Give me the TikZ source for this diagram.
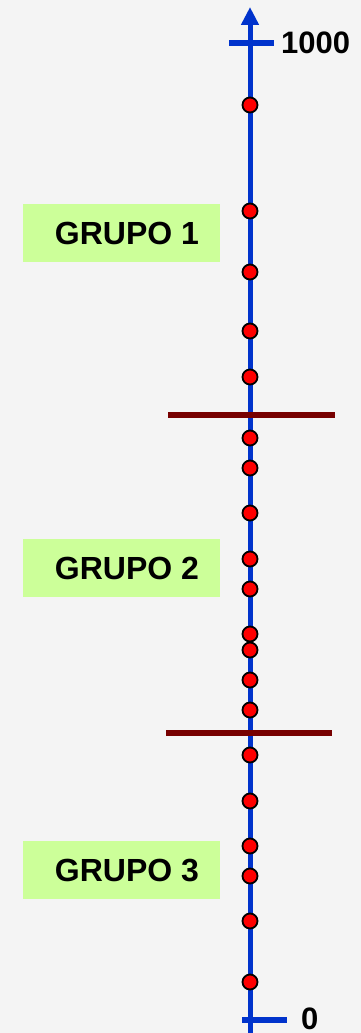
\documentclass[tikz,border=0pt]{standalone}
\usepackage{fontspec}
\setmainfont{Liberation Sans}
\usetikzlibrary{arrows.meta}
\definecolor{axisblue}{HTML}{0033CC}
\definecolor{sepred}{HTML}{770000}
\definecolor{boxgreen}{HTML}{CCFF99}
\definecolor{bggray}{HTML}{F4F4F4}
\tikzset{
  dot/.style={circle, draw=black, fill=red, line width=1.8pt, inner sep=0pt, minimum size=15pt},
  grupo/.style={fill=boxgreen, minimum width=197pt, minimum height=58pt, inner sep=0pt,
    font=\bfseries\fontsize{32}{38}\selectfont},
  ticklabel/.style={anchor=west, inner sep=0pt, font=\bfseries\fontsize{31}{37}\selectfont},
  tick/.style={axisblue, line width=5.5pt},
  separator/.style={sepred, line width=6pt}
}
\begin{document}
\begin{tikzpicture}[x=1pt, y=-1pt]
      \fill[bggray] (0,0) rectangle (361,1033);
      \useasboundingbox (0,0) rectangle (361,1033);

      % axis
      \coordinate (axbot) at (250,1033);
      \coordinate (axtop) at (250,7);
      \draw[axisblue, line width=5pt, -{Triangle[length=18pt, width=17pt]}] (axbot) -- (axtop);

      % ticks
      \coordinate (t1l) at (229,43);
      \coordinate (t1r) at (274,43);
      \coordinate (t0l) at (242,1020);
      \coordinate (t0r) at (287,1020);
      \draw[tick] (t1l) -- (t1r);
      \draw[tick] (t0l) -- (t0r);
      \node[ticklabel] (lbl1000) at (281,43) {1000};
      \node[ticklabel] (lbl0) at (301,1019) {0};

      % group separators
      \coordinate (s1l) at (168,415);
      \coordinate (s1r) at (335,415);
      \coordinate (s2l) at (166,733);
      \coordinate (s2r) at (332,733);
      \draw[separator] (s1l) -- (s1r);
      \draw[separator] (s2l) -- (s2r);

      % points
      \foreach \y [count=\i] in {105, 211, 272, 331, 377, 438, 468, 513, 559, 589,
                                 634, 650, 680, 710, 755, 801, 846, 876, 921, 982}
        \node[dot] (p\i) at (250,\y) {};

      % groups
      \node[grupo] (g1) at (121.5,233) {\hspace*{11pt}GRUPO 1};
      \node[grupo] (g2) at (121.5,568) {\hspace*{11pt}GRUPO 2};
      \node[grupo] (g3) at (121.5,870) {\hspace*{11pt}GRUPO 3};
\end{tikzpicture}
\end{document}
